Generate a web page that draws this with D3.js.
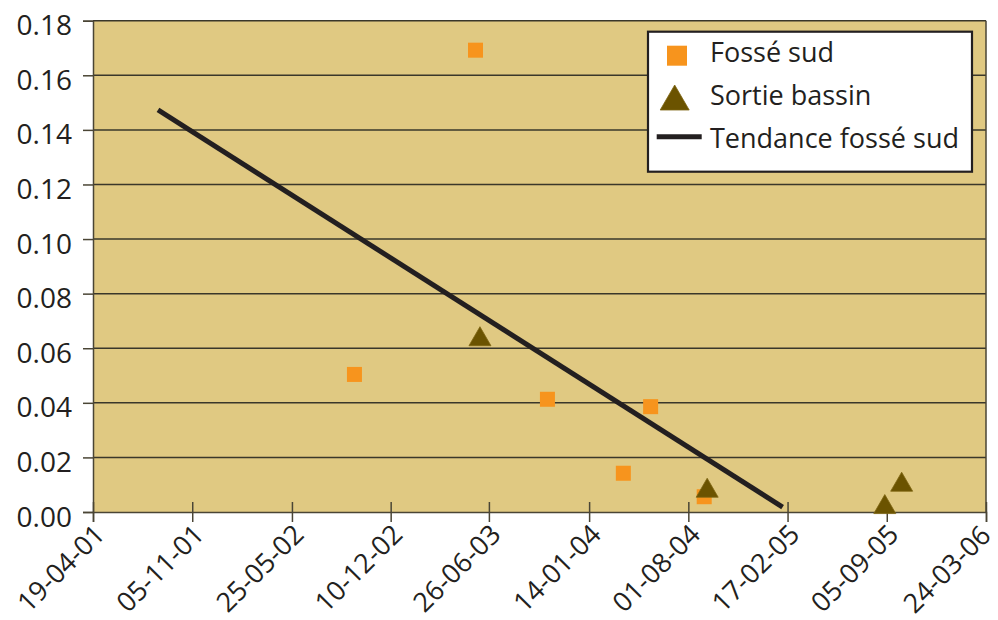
<!DOCTYPE html>
<html>
<head>
<meta charset="utf-8">
<script src="https://cdn.jsdelivr.net/npm/d3@7"></script>
<style>
  html, body { margin: 0; padding: 0; background: #ffffff; }
  svg { display: block; font-family: "Open Sans", "Noto Sans", sans-serif; }
</style>
</head>
<body>
<svg id="chart" width="998" height="620"></svg>
<script>
// ---- Data ----
const xTickLabels = ["19-04-01","05-11-01","25-05-02","10-12-02","26-06-03","14-01-04","01-08-04","17-02-05","05-09-05","24-03-06"];
const yTickValues = [0, 0.02, 0.04, 0.06, 0.08, 0.10, 0.12, 0.14, 0.16, 0.18];

const fosseDates  = ["2002-09-28","2003-05-30","2003-10-22","2004-03-23","2004-05-17","2004-09-02"];
const fosseValues = [0.0504, 0.1692, 0.0413, 0.0142, 0.0386, 0.0056];

const sortieDates  = ["2003-06-08","2004-09-08","2005-09-01","2005-10-05"];
const sortieValues = [0.0644, 0.0089, 0.0029, 0.0111];

const trendDates  = ["2001-08-28","2005-02-07"];
const trendValues = [0.1473, 0.0018];

const seriesNames = ["Fossé sud", "Sortie bassin", "Tendance fossé sud"];

// ---- Setup ----
const svg = d3.select("#chart");
const parseTick = d3.utcParse("%d-%m-%y");
const parseDate = d3.utcParse("%Y-%m-%d");
const tickDates = xTickLabels.map(parseTick);

const mLeft = 93, mRight = 986, mTop = 20.7, mBottom = 512;

const x = d3.scaleUtc()
  .domain([tickDates[0], tickDates[tickDates.length - 1]])
  .range([mLeft, mRight]);
const y = d3.scaleLinear().domain([0, 0.18]).range([mBottom, mTop]);

const bg = "#E0C982";
const gridColor = "#3a372a";
const axisColor = "#4a4535";
const textColor = "#231F20";

// Plot background
svg.append("rect")
  .attr("x", mLeft).attr("y", mTop)
  .attr("width", mRight - mLeft).attr("height", mBottom - mTop)
  .attr("fill", bg);

// Gridlines
svg.append("g").selectAll("line")
  .data(yTickValues.filter(v => v > 0))
  .join("line")
  .attr("x1", mLeft).attr("x2", mRight)
  .attr("y1", d => y(d)).attr("y2", d => y(d))
  .attr("stroke", gridColor).attr("stroke-width", 1.5);

// Right border
svg.append("line")
  .attr("x1", mRight).attr("x2", mRight)
  .attr("y1", mTop).attr("y2", mBottom)
  .attr("stroke", axisColor).attr("stroke-width", 1.5);

// Y axis
const yAxis = svg.append("g")
  .attr("transform", `translate(${mLeft},0)`)
  .call(d3.axisLeft(y).tickValues(yTickValues).tickFormat(d3.format(".2f")).tickSize(10).tickPadding(11));
yAxis.select(".domain").attr("stroke", axisColor).attr("stroke-width", 1.5);
yAxis.selectAll(".tick line").attr("stroke", axisColor).attr("stroke-width", 1.5);
yAxis.selectAll(".tick text")
  .attr("font-size", 28).attr("fill", textColor)
  .attr("dy", "14px")
  .attr("font-family", "'Open Sans', sans-serif");

// X axis
const xAxis = svg.append("g")
  .attr("transform", `translate(0,${mBottom})`)
  .call(d3.axisBottom(x).tickValues(tickDates).tickFormat((d, i) => xTickLabels[i]).tickSizeOuter(0).tickSize(10));
xAxis.select(".domain").attr("stroke", axisColor).attr("stroke-width", 1.5);
xAxis.selectAll(".tick line").attr("stroke", axisColor).attr("stroke-width", 1.5)
  .attr("y1", -10).attr("y2", 10);
xAxis.selectAll(".tick text")
  .attr("font-size", 27).attr("fill", textColor)
  .attr("font-family", "'Open Sans', sans-serif")
  .attr("text-anchor", "end")
  .attr("dy", 0)
  .attr("y", 0)
  .attr("transform", (d, i) => i === xTickLabels.length - 1
    ? "translate(6,25) rotate(-45)"
    : "translate(13,24) rotate(-45)");

// Trend line
const trend = trendDates.map((d, i) => ({ date: parseDate(d), value: trendValues[i] }));
svg.append("path")
  .datum(trend)
  .attr("d", d3.line().x(d => x(d.date)).y(d => y(d.value)))
  .attr("stroke", "#231F20").attr("stroke-width", 5).attr("fill", "none");

// Fossé sud squares
const sq = 15;
const fosse = fosseDates.map((d, i) => ({ date: parseDate(d), value: fosseValues[i] }));
svg.append("g").selectAll("rect")
  .data(fosse)
  .join("rect")
  .attr("x", d => x(d.date) - sq / 2)
  .attr("y", d => y(d.value) - sq / 2)
  .attr("width", sq).attr("height", sq)
  .attr("fill", "#F7941D");

// Sortie bassin triangles
const triPath = (w, h) => `M0,${-h / 2}L${w / 2},${h / 2}L${-w / 2},${h / 2}Z`;
const sortie = sortieDates.map((d, i) => ({ date: parseDate(d), value: sortieValues[i] }));
svg.append("g").selectAll("path")
  .data(sortie)
  .join("path")
  .attr("transform", d => `translate(${x(d.date)},${y(d.value)})`)
  .attr("d", triPath(22, 19))
  .attr("fill", "#6B5300")
  .attr("stroke", "#7d6512").attr("stroke-width", 0.8);

// Legend
const lg = svg.append("g");
lg.append("rect")
  .attr("x", 648).attr("y", 31.7)
  .attr("width", 324).attr("height", 140)
  .attr("fill", "#ffffff")
  .attr("stroke", "#231F20").attr("stroke-width", 2.2);
lg.append("rect")
  .attr("x", 667).attr("y", 45.7).attr("width", 20).attr("height", 20)
  .attr("fill", "#F7941D");
lg.append("path")
  .attr("transform", "translate(674.7,97.5)")
  .attr("d", triPath(29, 25))
  .attr("fill", "#6B5300")
  .attr("stroke", "#7d6512").attr("stroke-width", 0.8);
lg.append("line")
  .attr("x1", 656.7).attr("x2", 701.7)
  .attr("y1", 136.7).attr("y2", 136.7)
  .attr("stroke", "#231F20").attr("stroke-width", 5);
const legendBaselines = [61.7, 105, 148.3];
lg.selectAll("text.lbl")
  .data(seriesNames)
  .join("text")
  .attr("class", "lbl")
  .attr("x", 710)
  .attr("y", (d, i) => legendBaselines[i])
  .attr("font-size", 27)
  .attr("fill", textColor)
  .text(d => d);
</script>
</body>
</html>
